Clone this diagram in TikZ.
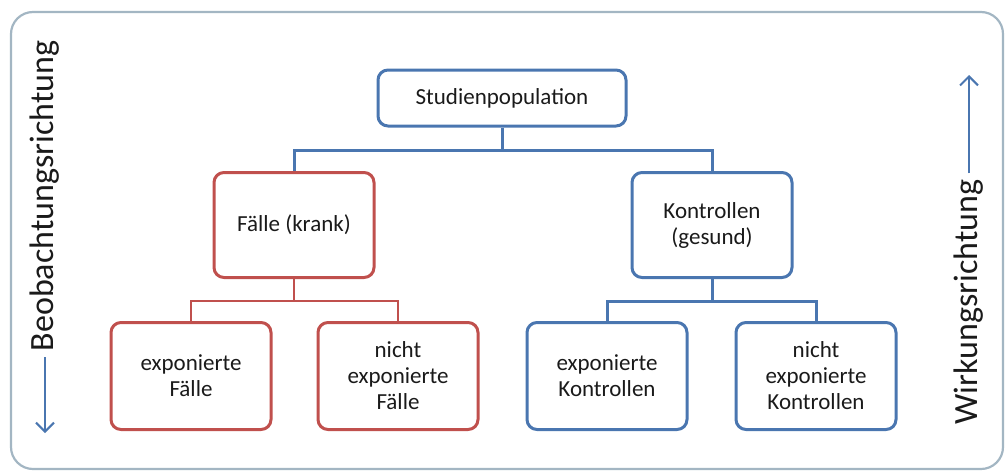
\documentclass[tikz,border=0pt]{standalone}
\usepackage{fontspec}
\setmainfont{Carlito}
\usepackage{xcolor}
\usepackage{tikz}
\usetikzlibrary{positioning}
\usetikzlibrary{arrows.meta}

\definecolor{boxblue}{HTML}{4A76B0}
\definecolor{boxred}{HTML}{C0504D}
\definecolor{framegray}{HTML}{A3B6C3}
\definecolor{txtgray}{HTML}{1A1A1A}

\begin{document}
\begin{tikzpicture}[
      x=1pt, y=-1pt,
      >={Straight Barb[length=9pt,width=18pt]},
      box/.style={draw,rectangle,rounded corners=10pt,line width=3pt,
                  minimum width=160pt,minimum height=105pt,align=center,
                  text=txtgray,font=\fontsize{23}{26}\selectfont},
      bluebox/.style={box,draw=boxblue},
      redbox/.style={box,draw=boxred},
      bluelink/.style={draw=boxblue,line width=3pt},
      redlink/.style={draw=boxred,line width=1.4pt},
      dirarrow/.style={->,draw=boxblue,line width=2pt},
      sidetext/.style={rotate=90,inner sep=6pt,text=txtgray,
                       font=\fontsize{34}{38}\selectfont}
    ]
    \useasboundingbox (0,0) rectangle (1008,471);

    % outer frame
    \draw[framegray, line width=2.2pt, rounded corners=22pt] (11,12) rectangle (1003,469);

    % study population and the two groups
    \node[bluebox, minimum width=248pt, minimum height=56pt] (stud) at (502,98) {Studienpopulation};
    \node[redbox] (faelle) at (294,225) {Fälle (krank)};
    \node[bluebox] (kontr) at (712,225) {Kontrollen\\(gesund)};

    % exposure subgroups
    \node[redbox, minimum height=107pt] (expf) at (191,376) {exponierte\\Fälle};
    \node[redbox, minimum height=107pt] (nexpf) at (398,376) {nicht\\exponierte\\Fälle};
    \node[bluebox, minimum height=107pt] (expk) at (607,376) {exponierte\\Kontrollen};
    \node[bluebox, minimum height=107pt] (nexpk) at (816,376) {nicht\\exponierte\\Kontrollen};

    % tree connections
    \draw[bluelink] (stud.south) -- +(0,23) -| (faelle.north);
    \draw[bluelink] (stud.south) -- +(0,23) -| (kontr.north);
    \draw[redlink] (faelle.south) -- +(0,22) -| (expf.north);
    \draw[redlink] (faelle.south) -- +(0,22) -| (nexpf.north);
    \draw[bluelink] (kontr.south) -- +(0,22) -| (expk.north);
    \draw[bluelink] (kontr.south) -- +(0,22) -| (nexpk.north);

    % direction labels
    \node[sidetext] (beob) at (45,196) {Beobachtungsrichtung};
    \coordinate (beobend) at (45,433);
    \draw[dirarrow] (beob.west) -- (beobend);

    \node[sidetext] (wirk) at (969,302) {Wirkungsrichtung};
    \coordinate (wirkend) at (969,75);
    \draw[dirarrow] (wirk.east) -- (wirkend);

  \end{tikzpicture}
\end{document}
